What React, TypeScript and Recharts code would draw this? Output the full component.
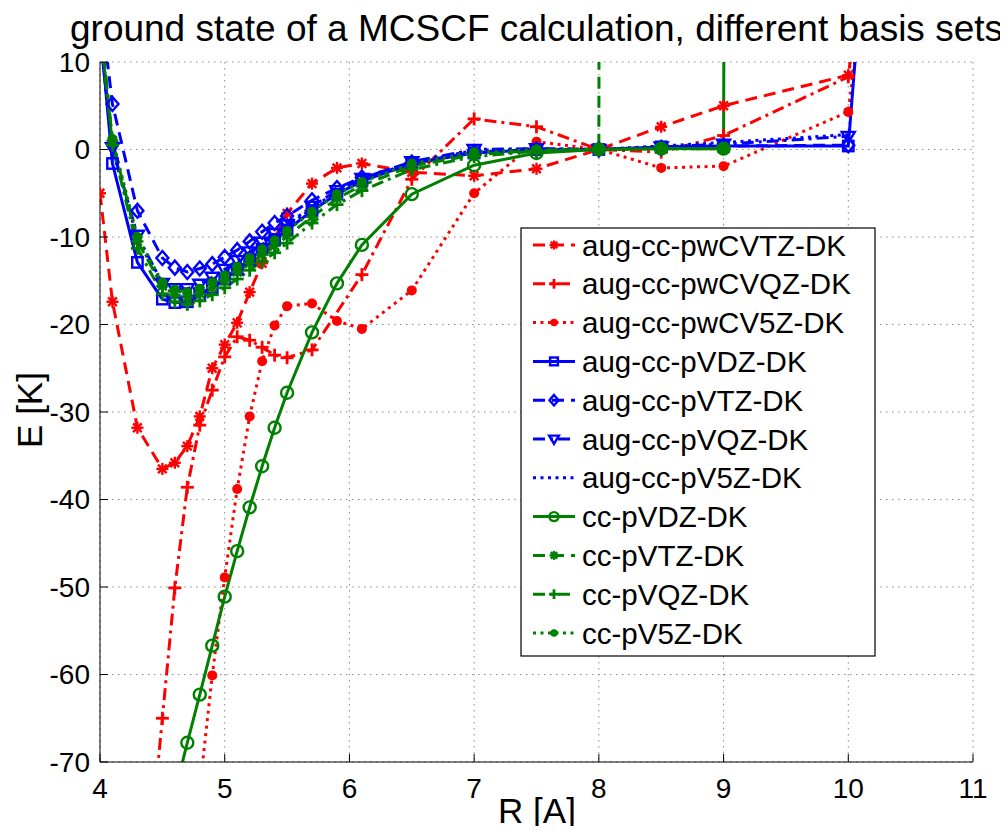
import React from 'react'
import { LineChart, Line, XAxis, YAxis, CartesianGrid } from 'recharts'

// bond distance grid (A); null = no point for that basis set
const R = [4.0, 4.1, 4.3, 4.4, 4.5, 4.6, 4.7, 4.8, 4.9, 5.0, 5.1, 5.2, 5.3, 5.4, 5.5, 5.7, 5.9, 6.1, 6.5, 7.0, 7.5, 8.0, 8.5, 9.0, 10.0, 10.5]

const augPwCVTZ = [-5.0, -17.4, -31.8, null, -36.5, -35.8, -33.9, -30.5, -25.0, -22.3, -19.8, -16.3, -13.0, null, -7.3, -3.9, -2.1, -1.6, -2.6, -3.0, -2.2, 0, 2.6, 5.0, 8.5, 60]
const augPwCVQZ = [null, null, null, -80, -65.0, -50.1, -38.6, -31.5, -27.5, -23.7, -21.4, -21.8, -22.6, -23.5, -23.8, -22.9, null, -14.3, -3.4, 3.5, 2.6, 0, -0.3, 1.6, 8.3, 60]
const augPwCV5Z = [null, null, null, null, null, null, null, -73, -60.1, -48.9, -38.8, -30.5, -24.2, -20.1, -17.9, -17.6, -19.6, -20.5, -16.1, -5.0, 0.9, 0, -2.1, -1.9, 4.3, 60]
const augPVDZ = [14, -1.6, -12.9, null, -17.1, -17.5, -17.4, -16.7, -15.8, -14.8, -13.7, -12.6, -11.4, -10.3, -9.2, -7.0, -5.1, -3.6, -1.6, -0.4, 0, 0, 0.3, 0.4, 0.4, 90]
const augPVTZ = [17, 5.2, -7.0, null, -12.4, -13.5, -14.0, -13.6, -13.1, -12.3, -11.5, -10.5, -9.4, -8.4, -7.6, -5.8, -4.4, -3.2, -1.5, -0.3, 0, 0, 0.2, 0.4, 0.5, null]
const augPVQZ = [13, 0.2, -9.8, null, -15.3, -15.9, -15.9, -15.4, -14.6, -13.7, -12.7, -11.7, -10.6, -9.6, -8.6, -6.5, -4.7, -3.3, -1.4, 0.0, 0.1, 0, 0.3, 0.6, 1.5, null]
const augPV5Z = [13, 0.0, -10.2, null, -15.6, -16.2, -16.2, -15.7, -14.9, -14.0, -13.0, -12.0, -10.9, -9.8, -8.8, -6.7, -4.8, -3.4, -1.5, -0.1, 0.1, 0, 0.4, 0.8, 1.7, null]
const ccPVDZ = [null, null, null, null, null, -73.5, -67.8, -62.3, -56.7, -51.1, -45.9, -40.9, -36.2, -31.8, -27.8, -20.9, -15.3, -10.9, -5.1, -1.8, -0.4, 0, 0.1, 0.1, 5000, null]
const ccPVTZ = [15, 1.0, -10.5, null, -15.6, -16.6, -16.9, -16.5, -15.8, -15.0, -14.0, -13.0, -12.0, -11.0, -9.9, -7.7, -5.6, -4.1, -1.9, -0.6, -0.1, 0, 5000, null, null, null]
const ccPVQZ = [14, 0.5, -11.3, null, -16.5, -17.4, -17.7, -17.3, -16.6, -15.8, -14.8, -13.8, -12.8, -11.8, -10.7, -8.4, -6.3, -4.7, -2.3, -0.8, -0.2, 0, 0.1, 0.1, null, null]
const ccPV5Z = [14, 1.2, -10.0, null, -15.2, -16.0, -16.3, -15.9, -15.2, -14.4, -13.4, -12.4, -11.4, -10.4, -9.3, -7.1, -5.1, -3.7, -1.6, -0.3, 0, 0, 0.1, 0.1, null, null]

const xTicks = [4, 5, 6, 7, 8, 9, 10, 11]
const yTicks = [-70, -60, -50, -40, -30, -20, -10, 0, 10]

const RED = '#ff0000'
const BLUE = '#0000ff'
const GREEN = '#008000'
const FONT = "'Liberation Sans', Arial, Helvetica, sans-serif"

const DASH: Record<string, string | undefined> = {
  solid: undefined,
  dashed: '12 7',
  dashdot: '12 5 3 5',
  dotted: '3 4.5',
}

type Marker = 'star' | 'plus' | 'dot' | 'square' | 'diamond' | 'triangle' | 'circle' | 'none'

const series: { key: string; name: string; values: (number | null)[]; color: string; style: string; marker: Marker }[] = [
  { key: 'pwCVTZ', name: 'aug-cc-pwCVTZ-DK', values: augPwCVTZ, color: RED, style: 'dashed', marker: 'star' },
  { key: 'pwCVQZ', name: 'aug-cc-pwCVQZ-DK', values: augPwCVQZ, color: RED, style: 'dashdot', marker: 'plus' },
  { key: 'pwCV5Z', name: 'aug-cc-pwCV5Z-DK', values: augPwCV5Z, color: RED, style: 'dotted', marker: 'dot' },
  { key: 'aPVDZ', name: 'aug-cc-pVDZ-DK', values: augPVDZ, color: BLUE, style: 'solid', marker: 'square' },
  { key: 'aPVTZ', name: 'aug-cc-pVTZ-DK', values: augPVTZ, color: BLUE, style: 'dashed', marker: 'diamond' },
  { key: 'aPVQZ', name: 'aug-cc-pVQZ-DK', values: augPVQZ, color: BLUE, style: 'dashdot', marker: 'triangle' },
  { key: 'aPV5Z', name: 'aug-cc-pV5Z-DK', values: augPV5Z, color: BLUE, style: 'dotted', marker: 'none' },
  { key: 'cPVDZ', name: 'cc-pVDZ-DK', values: ccPVDZ, color: GREEN, style: 'solid', marker: 'circle' },
  { key: 'cPVTZ', name: 'cc-pVTZ-DK', values: ccPVTZ, color: GREEN, style: 'dashed', marker: 'star' },
  { key: 'cPVQZ', name: 'cc-pVQZ-DK', values: ccPVQZ, color: GREEN, style: 'dashdot', marker: 'plus' },
  { key: 'cPV5Z', name: 'cc-pV5Z-DK', values: ccPV5Z, color: GREEN, style: 'dotted', marker: 'dot' },
]

const rows = R.map((r, i) => {
  const row: Record<string, number | null> = { r }
  series.forEach(s => { row[s.key] = s.values[i] })
  return row
})

function drawMarker(kind: Marker, color: string, cx: number, cy: number, key?: string | number, scale = 1) {
  const sw = 2.4
  switch (kind) {
    case 'star': {
      const s = 6 * scale, d = 4.3 * scale
      return (
        <g key={key} stroke={color} strokeWidth={sw}>
          <line x1={cx - s} y1={cy} x2={cx + s} y2={cy} />
          <line x1={cx} y1={cy - s} x2={cx} y2={cy + s} />
          <line x1={cx - d} y1={cy - d} x2={cx + d} y2={cy + d} />
          <line x1={cx - d} y1={cy + d} x2={cx + d} y2={cy - d} />
        </g>
      )
    }
    case 'plus': {
      const s = 6.5 * scale
      return (
        <g key={key} stroke={color} strokeWidth={2.8}>
          <line x1={cx - s} y1={cy} x2={cx + s} y2={cy} />
          <line x1={cx} y1={cy - s} x2={cx} y2={cy + s} />
        </g>
      )
    }
    case 'dot':
      return <circle key={key} cx={cx} cy={cy} r={5 * scale} fill={color} stroke="none" />
    case 'square': {
      const h = 5.2 * scale
      return <rect key={key} x={cx - h} y={cy - h} width={2 * h} height={2 * h} fill="none" stroke={color} strokeWidth={sw} />
    }
    case 'diamond': {
      const a = 7 * scale, b = 6 * scale
      return <polygon key={key} points={`${cx},${cy - a} ${cx + b},${cy} ${cx},${cy + a} ${cx - b},${cy}`} fill="none" stroke={color} strokeWidth={sw} />
    }
    case 'triangle': {
      const w = 6.5 * scale
      return <polygon key={key} points={`${cx - w},${cy - 4.5 * scale} ${cx + w},${cy - 4.5 * scale} ${cx},${cy + 6.5 * scale}`} fill="none" stroke={color} strokeWidth={sw} />
    }
    case 'circle':
      return <circle key={key} cx={cx} cy={cy} r={6 * scale} fill="none" stroke={color} strokeWidth={sw} />
    default:
      return <g key={key} />
  }
}

const makeDot = (kind: Marker, color: string) => (p: any) => {
  const k = `${p.dataKey}-${p.index}`
  if (p.cx == null || p.cy == null || p.value == null || !isFinite(p.cy)) return <g key={k} />
  return drawMarker(kind, color, p.cx, p.cy, k)
}

const tickStyle = { fill: '#000', fontSize: 28, fontFamily: FONT }

export default function App() {
  const legendX = 513
  const legendY = 220
  const rowH = 38.8
  return (
    <div style={{ position: 'relative', width: 992, height: 818 }}>
      <LineChart width={992} height={818} data={rows} margin={{ top: 54, right: 27, bottom: 24, left: 32 }}>
        <CartesianGrid stroke="#8a8a8a" strokeDasharray="1.5 4.5" horizontal vertical />
        <XAxis
          dataKey="r"
          type="number"
          domain={[4, 11]}
          ticks={xTicks}
          interval={0}
          allowDataOverflow
          height={40}
          tickSize={-8}
          tickMargin={24}
          axisLine={{ stroke: '#000' }}
          tickLine={{ stroke: '#000' }}
          tick={tickStyle}
        />
        <XAxis
          xAxisId="top"
          orientation="top"
          type="number"
          domain={[4, 11]}
          ticks={xTicks}
          interval={0}
          height={0}
          tickSize={-8}
          tick={false}
          axisLine={{ stroke: '#000' }}
          tickLine={{ stroke: '#000' }}
        />
        <YAxis
          type="number"
          domain={[-70, 10]}
          ticks={yTicks}
          interval={0}
          allowDataOverflow
          width={60}
          tickSize={-8}
          tickMargin={18}
          axisLine={{ stroke: '#000' }}
          tickLine={{ stroke: '#000' }}
          tick={tickStyle}
        />
        <YAxis
          yAxisId="right"
          orientation="right"
          type="number"
          domain={[-70, 10]}
          ticks={yTicks}
          interval={0}
          width={0}
          tickSize={-8}
          tick={false}
          axisLine={{ stroke: '#000' }}
          tickLine={{ stroke: '#000' }}
        />
        {series.map(s => (
          <Line
            key={s.key}
            dataKey={s.key}
            name={s.name}
            type="linear"
            stroke={s.color}
            strokeWidth={3}
            strokeDasharray={DASH[s.style]}
            dot={makeDot(s.marker, s.color)}
            activeDot={false}
            connectNulls
            isAnimationActive={false}
          />
        ))}
      </LineChart>

      <svg width={1000} height={826} style={{ position: 'absolute', left: 0, top: 0, overflow: 'visible', pointerEvents: 'none' }}>
        <text x={528.5} y={33} textAnchor="middle" fontSize={37} fontFamily={FONT} fill="#000">
          ground state of a MCSCF calculation, different basis sets
        </text>
        <text x={529} y={815} textAnchor="middle" fontSize={35} fontFamily={FONT} fill="#000">R [A]</text>
        <text x={34} y={402} textAnchor="middle" fontSize={35} fontFamily={FONT} fill="#000" transform="rotate(-90 34 402)">E [K]</text>

        <rect x={legendX} y={legendY} width={354} height={428} fill="#fff" stroke="#000" strokeWidth={1.2} />
        {series.map((s, i) => {
          const cy = legendY + 17 + i * rowH
          return (
            <g key={s.key}>
              <line x1={legendX + 12} y1={cy} x2={legendX + 54} y2={cy} stroke={s.color} strokeWidth={3} strokeDasharray={DASH[s.style]} />
              {drawMarker(s.marker, s.color, legendX + 33, cy, undefined, 0.75)}
              <text x={legendX + 61} y={cy} dy="0.36em" fontSize={29.5} fontFamily={FONT} fill="#000">{s.name}</text>
            </g>
          )
        })}
      </svg>
    </div>
  )
}
